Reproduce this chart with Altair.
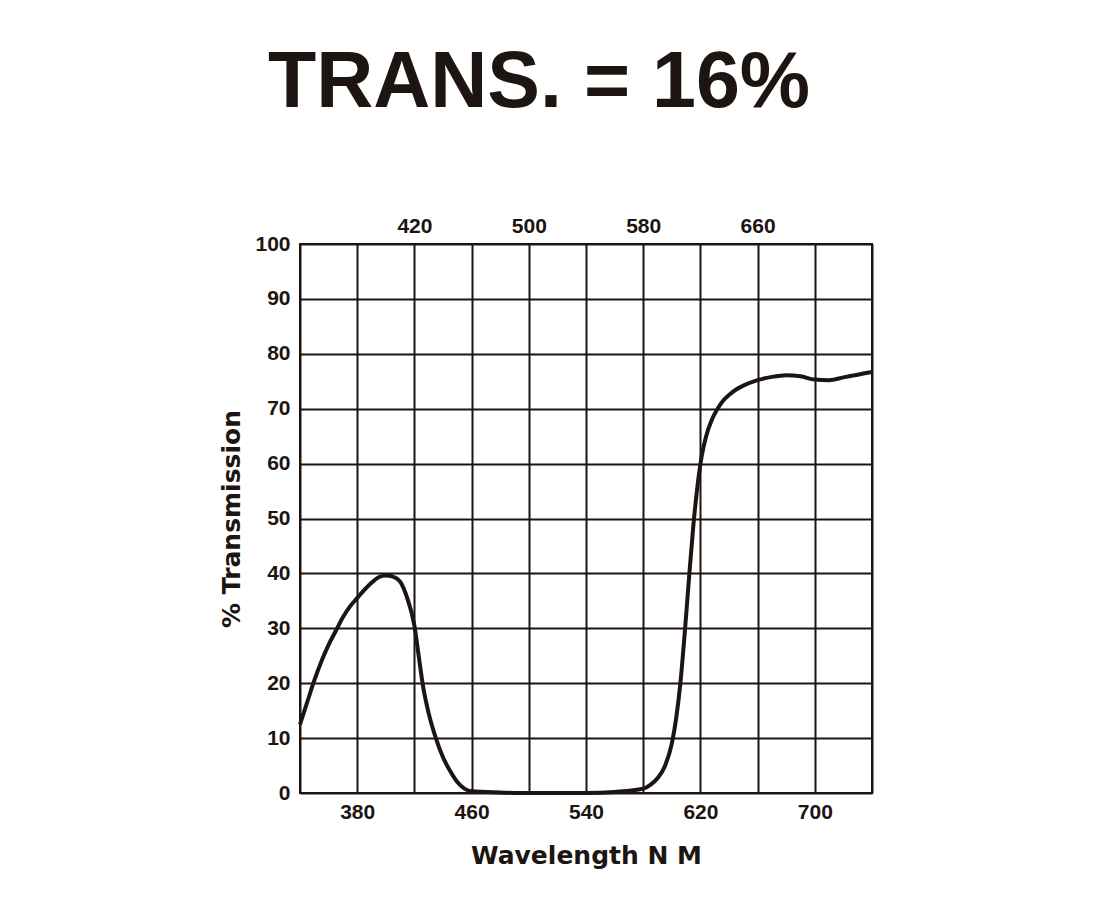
import altair as alt
import pandas as pd

wavelength = [340, 345, 350, 355, 360, 365, 370, 375, 380, 385, 390, 395, 400, 405,
              410, 415, 420, 423, 426, 430, 435, 440, 445, 450, 455, 460, 480, 500, 520,
              540, 560, 580, 585, 590, 595, 600, 603, 606, 609, 612, 615, 618, 621,
              624, 628, 632, 636, 640, 645, 650, 660, 670, 680, 690, 700, 710, 720, 730, 740]
transmission = [12.5, 16.5, 20.5, 24, 27, 29.5, 32, 34, 35.5, 37, 38.3, 39.3, 39.6, 39.4,
                38.5, 35.5, 30.5, 25, 19.5, 14.5, 10, 6.5, 4, 2, 0.8, 0.3, 0.1, 0, 0,
                0, 0.2, 0.8, 1.5, 2.7, 4.8, 9, 13.5, 20, 29, 39, 48.5, 56, 61.5,
                65, 68, 70, 71.5, 72.5, 73.5, 74.2, 75.2, 75.8, 76.1, 75.9, 75.3, 75.2, 75.7, 76.2, 76.7]

grid_x = [340, 380, 420, 460, 500, 540, 580, 620, 660, 700, 740]
bottom_labels = [380, 460, 540, 620, 700]
top_labels = [420, 500, 580, 660]
y_ticks = [0, 10, 20, 30, 40, 50, 60, 70, 80, 90, 100]

ink = "#1c1511"

df = pd.DataFrame({"nm": wavelength, "T": transmission})
top_df = pd.DataFrame({"v": top_labels})

x_scale = alt.Scale(domain=[340, 740], nice=False, zero=False)
y_scale = alt.Scale(domain=[0, 100], nice=False)

label_style = dict(labelFont="Liberation Sans", labelFontWeight="bold", labelFontSize=21,
                   labelColor=ink, domain=False, ticks=False)
title_style = dict(titleFont="DejaVu Sans", titleFontSize=25, titleFontWeight="bold",
                   titleColor=ink)

line = alt.Chart(df).mark_line(color=ink, strokeWidth=4, interpolate="monotone").encode(
    x=alt.X("nm:Q", scale=x_scale,
            axis=alt.Axis(orient="bottom", values=grid_x,
                          labelExpr="(datum.value - 380) % 80 == 0 ? datum.label : ''",
                          title="Wavelength N M", grid=True, gridColor=ink, gridWidth=2,
                          gridOpacity=1, labelPadding=8, titlePadding=21,
                          **label_style, **title_style)),
    y=alt.Y("T:Q", scale=y_scale,
            axis=alt.Axis(values=y_ticks, title="% Transmission", grid=True, gridColor=ink,
                          gridWidth=2, gridOpacity=1, labelPadding=10, titlePadding=10,
                          **label_style, **title_style)),
)

top = alt.Chart(top_df).mark_point(opacity=0).encode(
    x=alt.X("v:Q", scale=x_scale,
            axis=alt.Axis(orient="top", values=top_labels, grid=False, title=None,
                          labelPadding=8, **label_style)),
)

chart = alt.layer(line, top).resolve_axis(x="independent").properties(
    width=572,
    height=549,
    padding={"left": 211, "top": 36, "right": 20, "bottom": 10},
    background="#ffffff",
    title=alt.Title("TRANS. = 16%", font="Liberation Sans", fontSize=79,
                    fontWeight="bold", color=ink, dx=-47, offset=91, anchor="middle"),
).configure_view(stroke=ink, strokeWidth=2)

chart.save("out.html", embed_options={"renderer": "svg", "actions": False})
